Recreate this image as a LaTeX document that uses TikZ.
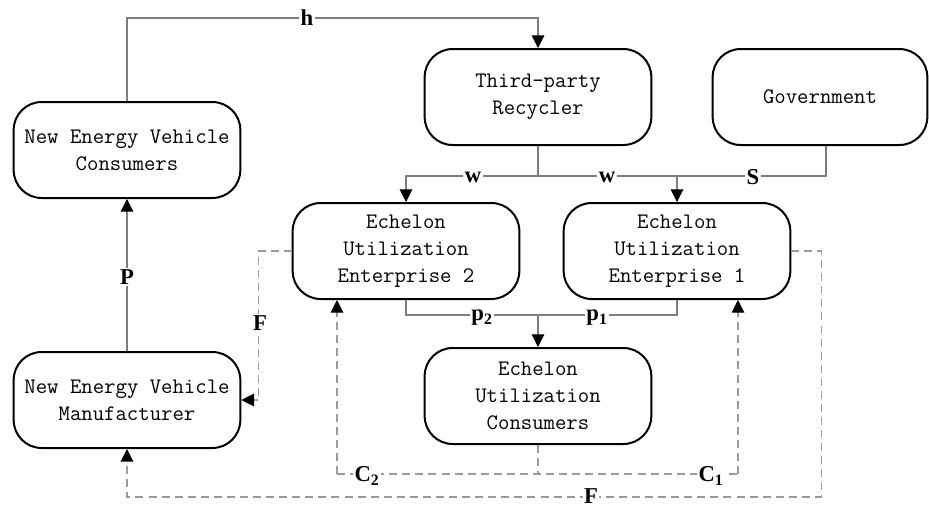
\documentclass[tikz,border=0pt]{standalone}
\usepackage{fontspec}
\usetikzlibrary{arrows.meta,calc}
\newfontfamily\labfont{Liberation Serif}

\definecolor{figline}{RGB}{125,125,125}
\definecolor{figdash}{RGB}{155,155,155}

\begin{document}
\begin{tikzpicture}[x=0.75pt,y=-0.75pt,
    blk/.style={draw,line width=1.5pt,rounded corners=21pt,minimum width=170pt,
      minimum height=72pt,align=center,inner sep=2pt,
      font=\fontsize{16.6}{20.25}\selectfont\ttfamily},
    conn/.style={draw=figline,line width=0.8pt},
    flow/.style={conn,-{Triangle[length=9.5pt,width=9.5pt,color=black]}},
    dconn/.style={draw=figdash,line width=0.8pt,dash pattern=on 6pt off 3.8pt},
    dflow/.style={dconn,-{Triangle[length=9.5pt,width=9.5pt,color=black]}},
    lab/.style={fill=white,inner sep=1pt,font=\fontsize{17}{18}\selectfont\labfont\bfseries}]
  \useasboundingbox (0,0) rectangle (929,507);
  % boxes
  \node[blk] (nevc) at (127,150) {New Energy Vehicle\\Consumers};
  \node[blk] (nevm) at (127,400) {New Energy Vehicle\\Manufacturer};
  \node[blk] (rec) at (538,97) {Third-party\\Recycler};
  \node[blk,minimum width=161pt] (gov) at (820,97) {Government};
  \node[blk] (eue2) at (406,251) {Echelon\\Utilization\\Enterprise 2};
  \node[blk] (eue1) at (677,251) {Echelon\\Utilization\\Enterprise 1};
  \node[blk] (euc) at (538,396) {Echelon\\Utilization\\Consumers};
  % solid flows
  \draw[flow] (nevc.north) -- (nevc.north |- 0,18) -| (rec.north);
  \draw[conn] (rec.south) -- (rec.south |- 0,176);
  \coordinate (gs) at ([xshift=4.5pt]gov.south);
  \draw[flow] (gs) |- (eue2.north |- 0,176) -- (eue2.north);
  \draw[flow] (eue1.north |- 0,176) -- (eue1.north);
  \draw[conn] (eue2.south) |- (eue1.south |- 0,315) -- (eue1.south);
  \draw[flow] (euc.north |- 0,315) -- (euc.north);
  \draw[flow] (nevm.north) -- (nevc.south);
  % dashed flows
  \draw[dflow] (eue2.west) -- ++(-33,0) |- (nevm.east);
  \draw[dflow] (eue1.east) -- ++(30,0) |- (nevm.south |- 0,497) -- (nevm.south);
  \coordinate (c2) at (337,474);
  \coordinate (c1) at (738,474);
  \draw[dconn] (c2) -- (c1);
  \draw[dconn] (euc.south) -- (euc.south |- c1);
  \draw[dflow] (c2) -- (c2 |- eue2.south);
  \draw[dflow] (c1) -- (c1 |- eue1.south);
  % labels
  \node[lab] (lh) at (307,18) {h};
  \node[lab] (lw2) at (473,177) {w};
  \node[lab] (lw1) at (607,177) {w};
  \node[lab] (ls) at (753,177) {S};
  \node[lab] (lp2) at (482,318) {p\textsubscript{2}};
  \node[lab] (lp1) at (597,318) {p\textsubscript{1}};
  \node[lab] (lP) at (127,277) {P};
  \node[lab] (lf1) at (260,323) {F};
  \node[lab] (lc2) at (367,476) {C\textsubscript{2}};
  \node[lab] (lc1) at (711,476) {C\textsubscript{1}};
  \node[lab] (lf2) at (591,496) {F};
\end{tikzpicture}
\end{document}
